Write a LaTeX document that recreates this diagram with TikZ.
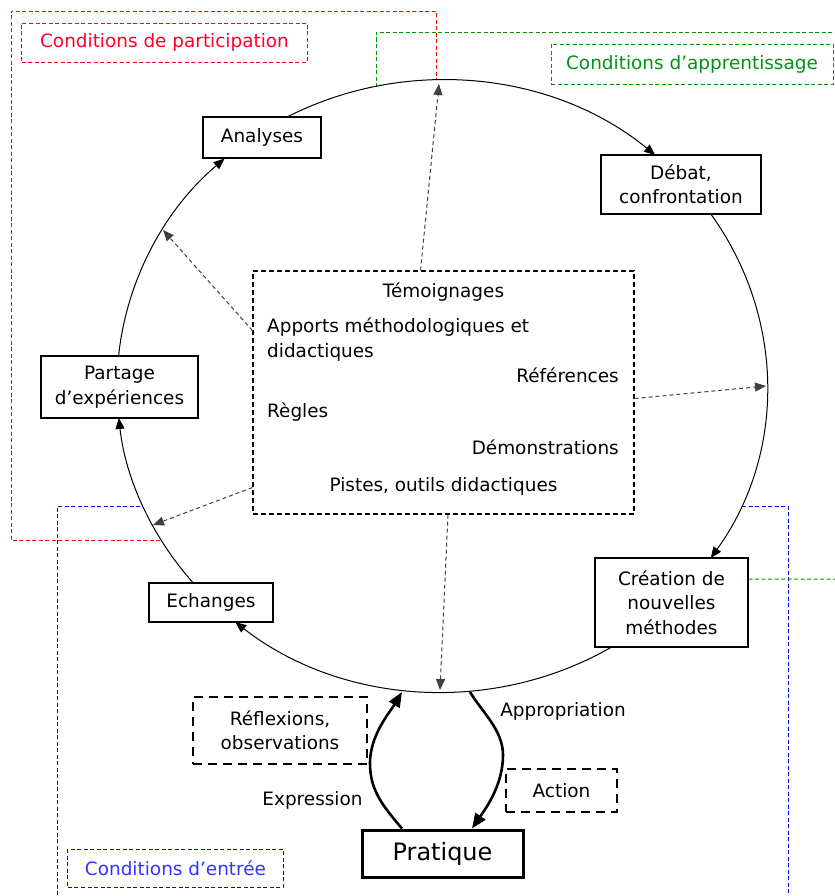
\documentclass[tikz,border=0pt]{standalone}
\usepackage{fontspec}
\setmainfont{DejaVu Sans}
\usetikzlibrary{arrows.meta,positioning}

\definecolor{rouge}{RGB}{255,0,0}
\definecolor{vert}{RGB}{0,150,0}
\definecolor{bleu}{RGB}{0,0,255}
\newcommand{\petit}{\fontsize{18.5}{24.5}\selectfont}
\newcommand{\grand}{\fontsize{24}{28}\selectfont}

\begin{document}
\begin{tikzpicture}[x=1bp,y=-1bp,>={Triangle[length=11bp,width=9bp]},
    etape/.style={draw,line width=1.3bp,fill=white,align=center,font=\petit,inner sep=0pt},
    tirets/.style={draw,line width=2.6bp,dash pattern=on 9bp off 6bp,align=center,font=\petit,inner sep=0pt},
    cadre/.style={draw,line width=1bp,dash pattern=on 4bp off 2.5bp,font=\petit,inner sep=0pt},
    anneau/.style={line width=1bp,->},
    apport/.style={line width=1bp,draw=black!75,dash pattern=on 4bp off 3bp,->},
    geste/.style={line width=2.6bp,-{Triangle[length=15bp,width=12bp]}}]

\useasboundingbox (0,0) rectangle (835,896);
\coordinate (c) at (442,386);

% cadres des conditions
\draw[rouge,line width=1bp,dash pattern=on 4bp off 2.5bp]
    (160,540) -- (11,540) -- (11,11) -- (436,11) -- (436,80);
\draw[vert,line width=1bp,dash pattern=on 4bp off 2.5bp]
    (376,87) -- (376,32) -- (835,32);
\draw[bleu,line width=1bp,dash pattern=on 4bp off 2.5bp]
    (140,506) -- (57,506) -- (57,896);
\draw[bleu,line width=1bp,dash pattern=on 4bp off 2.5bp]
    (742,506) -- (788,506) -- (788,896);

\node[cadre,draw=rouge,text=rouge!85!magenta,minimum width=285bp,minimum height=39bp] (participation) at (164.5,42.5) {Conditions de participation};
\node[cadre,draw=vert,text=vert!85!teal,minimum width=282bp,minimum height=40bp] (apprentissage) at (692,64) {Conditions d'apprentissage};
\node[cadre,draw=bleu,text=bleu!80!white,minimum width=215bp,minimum height=38bp] (entree) at (175.5,868) {Conditions d'entrée};

% le cycle
\draw[anneau] ([shift={(185.6:325 and 306)}]c) arc[start angle=185.6,end angle=228,x radius=325,y radius=306];
\draw[anneau] ([shift={(241.5:325 and 306)}]c) arc[start angle=241.5,end angle=311,x radius=325,y radius=306];
\draw[anneau] ([shift={(325.8:325 and 306)}]c) arc[start angle=325.8,end angle=394.2,x radius=325,y radius=306];
\draw[anneau] ([shift={(58.5:325 and 306)}]c) arc[start angle=58.5,end angle=129.5,x radius=325,y radius=306];
\draw[anneau] ([shift={(139.9:325 and 306)}]c) arc[start angle=139.9,end angle=174,x radius=325,y radius=306];

\node[etape,minimum width=118bp,minimum height=41bp] (analyses) at (262,137.5) {Analyses};
\node[etape,minimum width=160bp,minimum height=59bp] (debat) at (681,184.5) {Débat,\\confrontation};
\node[etape,minimum width=157bp,minimum height=62bp] (partage) at (119.5,387) {Partage\\d'expériences};
\node[etape,minimum width=124bp,minimum height=39bp] (echanges) at (211,602.5) {Echanges};
\node[etape,minimum width=153bp,minimum height=89bp] (creation) at (671.5,602.5) {Création de\\nouvelles\\méthodes};

\draw[vert,line width=1bp,dash pattern=on 4bp off 2.5bp]
    ([yshift=23.5bp]creation.east) -- (835,579);

% ressources au centre
\node[draw,line width=1.2bp,dash pattern=on 5bp off 3bp,minimum width=381bp,minimum height=243bp] (ressources) at (443.5,392.5) {};
\node[font=\petit,anchor=base] (temoignages) at (443.5,297) {Témoignages};
\node[font=\petit,anchor=base west,inner sep=0pt] (apports) at (267,332) {Apports méthodologiques et};
\node[font=\petit,anchor=base west,inner sep=0pt] (didactiques) at (267,357) {didactiques};
\node[font=\petit,anchor=base east,inner sep=0pt] (references) at (619,382) {Références};
\node[font=\petit,anchor=base west,inner sep=0pt] (regles) at (267,417) {Règles};
\node[font=\petit,anchor=base east,inner sep=0pt] (demos) at (619,454) {Démonstrations};
\node[font=\petit,anchor=base] (pistes) at (443.5,491) {Pistes, outils didactiques};

\coordinate (sommet) at (439,84);
\coordinate (gauche) at (163,230);
\coordinate (basgauche) at (153,525);
\coordinate (droite) at (766,386);
\coordinate (fond) at (440,690);
\draw[apport] ([xshift=-23bp]ressources.north) -- (sommet);
\draw[apport] ([yshift=62bp]ressources.west) -- (gauche);
\draw[apport] ([yshift=-95bp]ressources.west) -- (basgauche);
\draw[apport] ([yshift=-6bp]ressources.east) -- (droite);
\draw[apport] ([xshift=4.5bp]ressources.south) -- (fond);

% la pratique
\node[draw,line width=3bp,font=\grand,minimum width=161bp,minimum height=47bp,inner sep=0pt] (pratique) at (442.5,853.5) {Pratique};
\node[tirets,minimum width=174bp,minimum height=67bp] (reflexions) at (280,730.5) {Réflexions,\\observations};
\node[tirets,minimum width=111bp,minimum height=43bp] (action) at (561.5,790.5) {Action};

\coordinate (expr) at (402,692);
\coordinate (appr) at (470,692);
\draw[geste] ([xshift=-40.5bp]pratique.north) .. controls (382,805) and (370,790) .. (370,763)
    .. controls (370,735) and (390,712) .. (expr);
\draw[geste] (appr) .. controls (482,712) and (503,730) .. (503,755)
    .. controls (503,785) and (486,808) .. ([xshift=29.5bp]pratique.north);

\node[font=\petit] (expression) at (312.5,800) {Expression};
\node[font=\petit] (appropriation) at (563,711) {Appropriation};

\end{tikzpicture}
\end{document}
